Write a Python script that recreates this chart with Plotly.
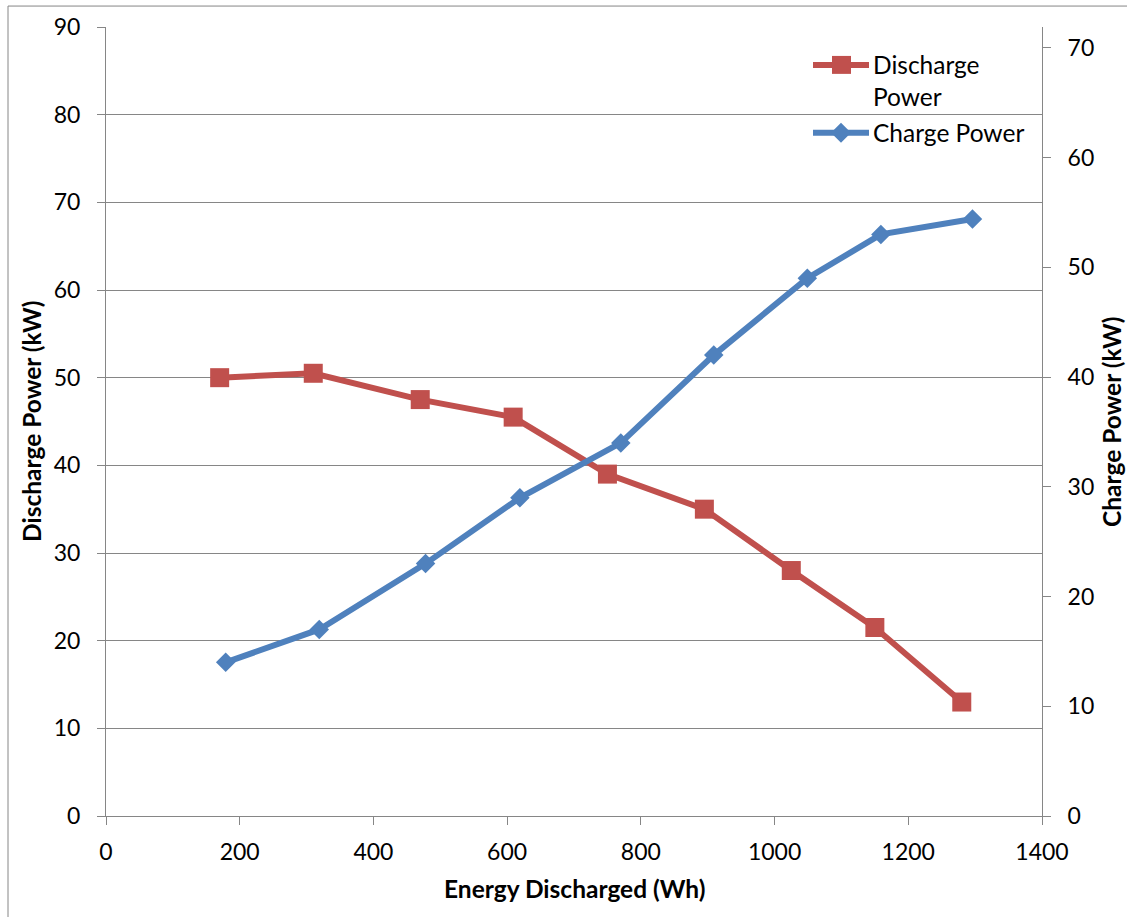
import plotly.graph_objects as go

# ---- data ----
energy_discharge = [170, 310, 470, 609, 750, 895, 1025, 1150, 1280]
discharge_power = [50.0, 50.5, 47.5, 45.5, 39.0, 35.0, 28.0, 21.5, 13.0]

energy_charge = [179, 319, 478, 619, 770, 909, 1049, 1159, 1296]
charge_power = [14.0, 17.0, 23.0, 29.0, 34.0, 42.0, 49.0, 53.0, 54.4]

x_ticks = [0, 200, 400, 600, 800, 1000, 1200, 1400]
y_left_ticks = [0, 10, 20, 30, 40, 50, 60, 70, 80, 90]
y_right_ticks = [0, 10, 20, 30, 40, 50, 60, 70]

series_names = ["Discharge Power", "Charge Power"]
x_title = "Energy Discharged (Wh)"
y_left_title = "Discharge Power (kW)"
y_right_title = "Charge Power (kW)"

# ---- style ----
RED = "#C0504D"
BLUE = "#4F81BD"
GRID = "#868686"
FONT = "Lato"
TICK_SIZE = 23
TEXT_SIZE = 24.5
W, H = 1127, 917
L, R, T, B = 106, 85, 25, 101
PW, PH = W - L - R, H - T - B


def px(xp):
    return (xp - L) / PW


def py(yp):
    return (H - B - yp) / PH


fig = go.Figure()
fig.add_trace(go.Scatter(
    x=energy_discharge, y=discharge_power, name=series_names[0],
    mode="lines+markers", yaxis="y",
    line=dict(color=RED, width=6),
    marker=dict(symbol="square", size=19, color=RED),
    showlegend=False,
))
fig.add_trace(go.Scatter(
    x=energy_charge, y=charge_power, name=series_names[1],
    mode="lines+markers", yaxis="y2",
    line=dict(color=BLUE, width=6),
    marker=dict(symbol="diamond", size=15, color=BLUE),
    showlegend=False,
))

tickfont = dict(family=FONT, size=TICK_SIZE, color="black")
common = dict(ticks="outside", ticklen=8, tickcolor=GRID, tickwidth=1,
              showline=True, linecolor=GRID, linewidth=1, zeroline=False,
              tickfont=tickfont)

fig.update_layout(
    width=W, height=H, autosize=False,
    margin=dict(l=L, r=R, t=T, b=B),
    paper_bgcolor="white", plot_bgcolor="white",
    font=dict(family=FONT, color="black"),
    xaxis=dict(range=[0, 1400], tickvals=x_ticks, showgrid=False,
               ticklabelstandoff=7, **common),
    yaxis=dict(range=[0, 90], tickvals=y_left_ticks, showgrid=True,
               gridcolor=GRID, gridwidth=1, ticklabelstandoff=12, **common),
    yaxis2=dict(range=[0, 71.9], tickvals=y_right_ticks, overlaying="y",
                side="right", showgrid=False, ticklabelstandoff=12, **common),
    showlegend=False,
)

textfont = dict(family=FONT, size=TEXT_SIZE, color="black")
annotations = [
    dict(text=f"<b>{x_title}</b>", x=px(574), y=py(889), xref="paper", yref="paper",
         showarrow=False, xanchor="center", yanchor="middle", font=textfont),
    dict(text=f"<b>{y_left_title}</b>", x=px(31), y=py(420), xref="paper", yref="paper",
         showarrow=False, xanchor="center", yanchor="middle", textangle=-90, font=textfont),
    dict(text=f"<b>{y_right_title}</b>", x=px(1112), y=py(421), xref="paper", yref="paper",
         showarrow=False, xanchor="center", yanchor="middle", textangle=-90, font=textfont),
    dict(text="Discharge", x=px(871), y=py(63), xref="paper", yref="paper",
         showarrow=False, xanchor="left", yanchor="middle", font=textfont),
    dict(text="Power", x=px(871), y=py(95), xref="paper", yref="paper",
         showarrow=False, xanchor="left", yanchor="middle", font=textfont),
    dict(text="Charge Power", x=px(871), y=py(131), xref="paper", yref="paper",
         showarrow=False, xanchor="left", yanchor="middle", font=textfont),
]
fig.update_layout(annotations=annotations)

shapes = [
    # outer chart frame
    dict(type="rect", xref="paper", yref="paper",
         x0=px(8), x1=px(1200), y0=py(1000), y1=py(4),
         line=dict(color=GRID, width=1), fillcolor="rgba(0,0,0,0)", layer="below"),
    # legend: discharge
    dict(type="line", xref="paper", yref="paper", x0=px(813), x1=px(869), y0=py(63), y1=py(63),
         line=dict(color=RED, width=6)),
    dict(type="rect", xref="paper", yref="paper", x0=px(832), x1=px(851), y0=py(72), y1=py(54),
         line=dict(color=RED, width=0), fillcolor=RED),
    # legend: charge
    dict(type="line", xref="paper", yref="paper", x0=px(813), x1=px(869), y0=py(131), y1=py(131),
         line=dict(color=BLUE, width=6)),
    dict(type="path", xref="paper", yref="paper",
         path=f"M {px(841)},{py(121)} L {px(851)},{py(131)} L {px(841)},{py(141)} L {px(831)},{py(131)} Z",
         line=dict(color=BLUE, width=0), fillcolor=BLUE),
]
fig.update_layout(shapes=shapes)

fig.write_html("out.html")
